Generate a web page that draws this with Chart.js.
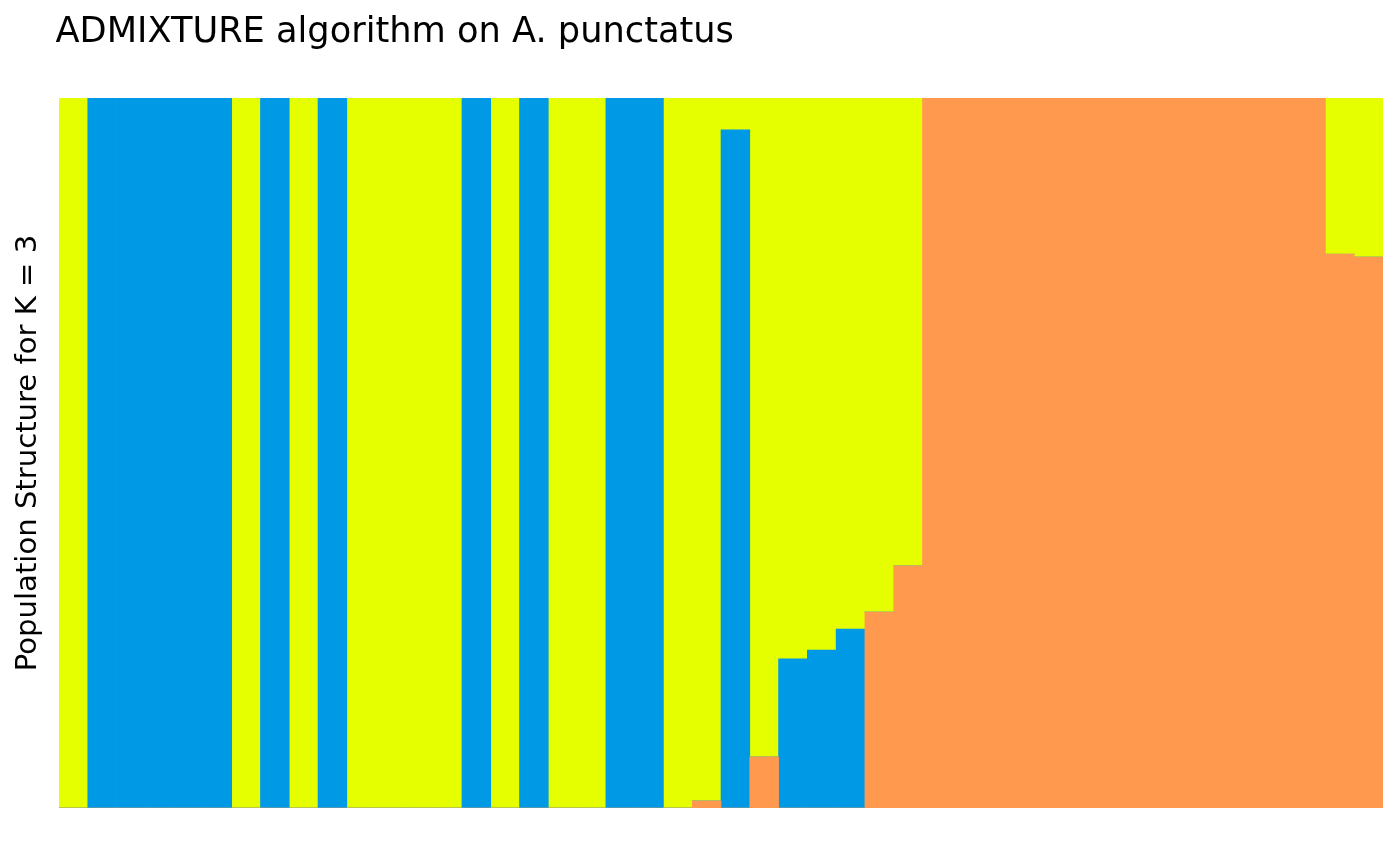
<!DOCTYPE html>
<html>
<head>
<meta charset="utf-8">
<script src="https://cdn.jsdelivr.net/npm/chart.js@4/dist/chart.umd.min.js"></script>
<style>
  html, body { margin: 0; padding: 0; background: #ffffff; }
  #wrap { width: 1400px; height: 865px; position: relative; }
</style>
</head>
<body>
<div id="wrap"><canvas id="c" width="1400" height="865"></canvas></div>
<script>
// ---- data ----
const titleText = "ADMIXTURE algorithm on A. punctatus";
const yLabelText = "Population Structure for K = 3";

const samples = Array.from({length: 46}, (_, i) => "S" + (i + 1));

// ancestry proportions per individual (sample 1..46)
const orangeQ = [0,0,0,0,0,0,0,0,0,0, 0,0,0,0,0,0,0,0,0,0, 0,0,0.01,0,0.072,0,0,0,0.276,0.341, 1,1,1,1,1,1,1,1,1,1, 1,1,1,1,0.780,0.776];
const blueQ   = [0,1,1,1,1,1,0,1,0,1, 0,0,0,0,1,0,1,0,0,1, 1,0,0,0.955,0,0.21,0.2225,0.252,0,0, 0,0,0,0,0,0,0,0,0,0, 0,0,0,0,0,0];
const yellowQ = [1,0,0,0,0,0,1,0,1,0, 1,1,1,1,0,1,0,1,1,0, 0,1,0.99,0.045,0.928,0.79,0.7775,0.748,0.724,0.659, 0,0,0,0,0,0,0,0,0,0, 0,0,0,0,0.220,0.224];

const colors = { orange: "#FF994D", blue: "#0099E5", yellow: "#E5FF00" };

const textPlugin = {
  id: "textPlugin",
  afterDraw(chart) {
    const ctx = chart.ctx;
    const area = chart.chartArea;
    ctx.save();
    ctx.fillStyle = "#000000";
    ctx.font = "35.2px 'DejaVu Sans'";
    ctx.textAlign = "left";
    ctx.textBaseline = "alphabetic";
    ctx.fillText(titleText, 55.5, 41.7);
    ctx.translate(35.8, (area.top + area.bottom) / 2);
    ctx.rotate(-Math.PI / 2);
    ctx.font = "29.1px 'DejaVu Sans'";
    ctx.textAlign = "center";
    ctx.fillText(yLabelText, 0, 0);
    ctx.restore();
  }
};

new Chart(document.getElementById("c"), {
  type: "bar",
  data: {
    labels: samples,
    datasets: [
      { label: "Cluster 1", data: orangeQ, backgroundColor: colors.orange },
      { label: "Cluster 2", data: blueQ, backgroundColor: colors.blue },
      { label: "Cluster 3", data: yellowQ, backgroundColor: colors.yellow }
    ]
  },
  options: {
    responsive: false,
    animation: false,
    devicePixelRatio: 1,
    layout: { padding: { left: 59, right: 17, top: 98, bottom: 57 } },
    datasets: { bar: { barPercentage: 1.0, categoryPercentage: 1.0, borderWidth: 0 } },
    plugins: { legend: { display: false }, tooltip: { enabled: false }, title: { display: false } },
    scales: {
      x: { stacked: true, display: false, offset: true },
      y: { stacked: true, display: false, min: 0, max: 1 }
    }
  },
  plugins: [textPlugin]
});
</script>
</body>
</html>
